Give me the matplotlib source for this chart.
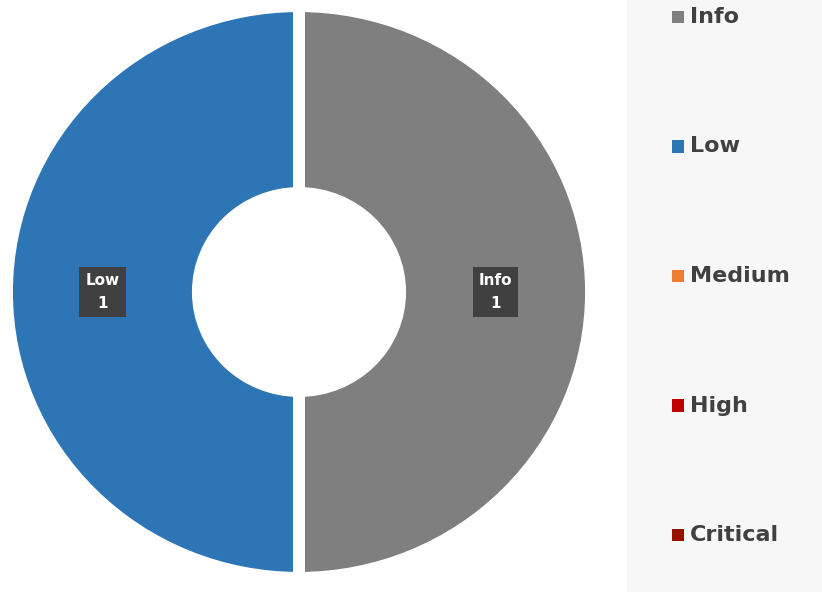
import matplotlib
matplotlib.use('Agg')
import matplotlib.pyplot as plt
import matplotlib.patheffects as pe
import numpy as np

categories = ['Info', 'Low', 'Medium', 'High', 'Critical']
counts = [1, 1, 0, 0, 0]
colors = ['#7f7f7f', '#2e75b6', '#ed7d31', '#c00000', '#961200']

fig = plt.figure(figsize=(8.22, 5.92), dpi=100)
fig.patch.set_facecolor('white')

# donut: centre (299, 292) px, slightly wider than tall like the original
cx, cy, rx, ry = 299, 292, 286, 280
ax = fig.add_axes([(cx - rx) / 822, (592 - cy - ry) / 592, 2 * rx / 822, 2 * ry / 592])

gap = 12  # px of white between slices
outer = (283 + gap / 2) / 283
inner = (106 - gap / 2) / 283
shown = [(c, v, col) for c, v, col in zip(categories, counts, colors) if v > 0]
wedges, _ = ax.pie([v for _, v, _ in shown], colors=[col for _, _, col in shown],
                   startangle=90, counterclock=False, radius=outer,
                   wedgeprops=dict(width=outer - inner, edgecolor='white',
                                   linewidth=gap * 0.72))
for w in wedges:
    w.set_path_effects([pe.SimplePatchShadow(offset=(2, -2), shadow_rgbFace='#bbbbbb', alpha=0.5),
                        pe.Normal()])

mid = (1 + 106 / 283) / 2
for w, (name, val, _) in zip(wedges, shown):
    ang = np.deg2rad((w.theta1 + w.theta2) / 2)
    ax.text(mid * np.cos(ang), mid * np.sin(ang), f'{name}\n{val}', ha='center', va='center',
            color='white', fontsize=11, fontweight='bold', linespacing=1.7,
            bbox=dict(boxstyle='square,pad=0.4', facecolor='#404040', edgecolor='none'))
ax.set_aspect('auto')
ax.set_xlim(-1, 1)
ax.set_ylim(-1, 1)
ax.axis('off')

# legend panel
lax = fig.add_axes([627 / 822, 0, 195 / 822, 1])
lax.set_facecolor('#f7f7f7')
lax.set_xlim(0, 195)
lax.set_ylim(-4.44, 0.131)
for i, (name, col) in enumerate(zip(categories, colors)):
    lax.scatter(51, -i, marker='s', s=78, color=col, edgecolors='none')
    lax.text(63, -i, name, ha='left', va='center', fontsize=16, fontweight='bold',
             color='#404040')
lax.set_xticks([])
lax.set_yticks([])
for s in lax.spines.values():
    s.set_visible(False)

fig.savefig('out.png', dpi=100)
